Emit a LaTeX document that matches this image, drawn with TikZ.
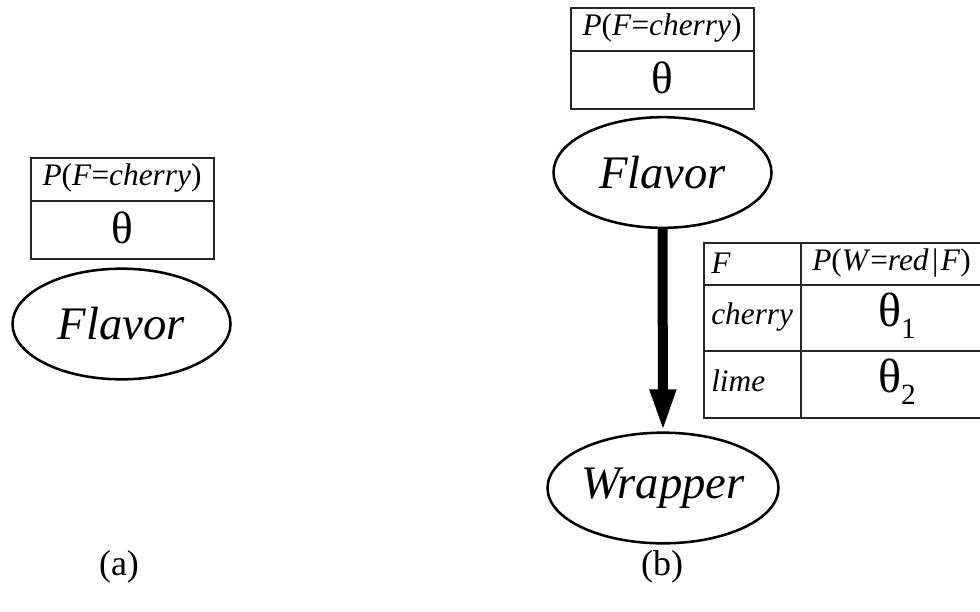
\documentclass[tikz,border=0pt]{standalone}
\usepackage{fontspec}
\setmainfont{Liberation Serif}
\usetikzlibrary{shapes.geometric,arrows.meta}
\newcommand{\fsz}[1]{\fontsize{#1}{#1}\selectfont}
\begin{document}
\begin{tikzpicture}[x=0.75pt,y=-0.75pt,
  cell/.style={draw=black!85,line width=1.2pt,inner sep=0pt,anchor=north west},
  var/.style={ellipse,draw,line width=1.9pt,inner sep=0pt,minimum width=163.5pt,minimum height=83pt,font=\fsz{35}\itshape},
  hdr/.style={font=\fsz{23.5}},
  th/.style={font=\fsz{34}},
  lab/.style={font=\fsz{27}}]
\useasboundingbox (0,0) rectangle (980,611);
\clip (0,0) rectangle (980,611);
% (a)
\node[cell,minimum width=137.25pt,minimum height=32.25pt] (ah) at (30,157) {};
\node[cell,minimum width=137.25pt,minimum height=43.5pt] (av) at (30,200) {};
\node[hdr] (aht) at (122,178.5) {\textit{P}(\textit{F}=\textit{cherry})};
\node[th] (avt) at (122,228) {θ};
\node[var] (aflav) at (121.5,324) {Flavor};
\node[lab] (la) at (119,567) {(a)};
% (b)
\node[cell,minimum width=137.25pt,minimum height=32.25pt] (bh) at (570,7) {};
\node[cell,minimum width=137.25pt,minimum height=43.5pt] (bv) at (570,50) {};
\node[hdr] (bht) at (662,28.5) {\textit{P}(\textit{F}=\textit{cherry})};
\node[th] (bvt) at (662,78) {θ};
\node[var] (bflav) at (662.5,172.5) {Flavor};
\node[var] (bwrap) at (663,488) {Wrapper};
\draw[line width=7.5pt,-{Triangle[width=18pt,length=31.5pt]}] (bflav.south) -- (bwrap.north);
% CPT
\node[cell,minimum width=72.75pt,minimum height=31.5pt] (c11) at (703,242) {};
\node[cell,minimum width=150pt,minimum height=31.5pt] (c12) at (800,242) {};
\node[cell,minimum width=72.75pt,minimum height=49.5pt] (c21) at (703,284) {};
\node[cell,minimum width=150pt,minimum height=49.5pt] (c22) at (800,284) {};
\node[cell,minimum width=72.75pt,minimum height=50.25pt] (c31) at (703,350) {};
\node[cell,minimum width=150pt,minimum height=50.25pt] (c32) at (800,350) {};
\node[hdr,anchor=west,inner sep=0pt] (t11) at (711,263) {\textit{F}};
\node[hdr,anchor=west,inner sep=0pt] (t12) at (812,263) {\textit{P}(\textit{W}=\textit{red}\hspace{2.5pt}|\hspace{2pt}\textit{F})};
\node[hdr,anchor=west,inner sep=0pt] (t21) at (711,317) {\textit{cherry}};
\node[hdr,anchor=west,inner sep=0pt] (t31) at (711,381) {\textit{lime}};
\node[font=\fsz{36}] (t22) at (897,316) {θ\raisebox{-0.25em}{\fsz{22}1}};
\node[font=\fsz{36}] (t32) at (897,382) {θ\raisebox{-0.25em}{\fsz{22}2}};
\node[lab] (lb) at (662,567) {(b)};
\end{tikzpicture}
\end{document}
